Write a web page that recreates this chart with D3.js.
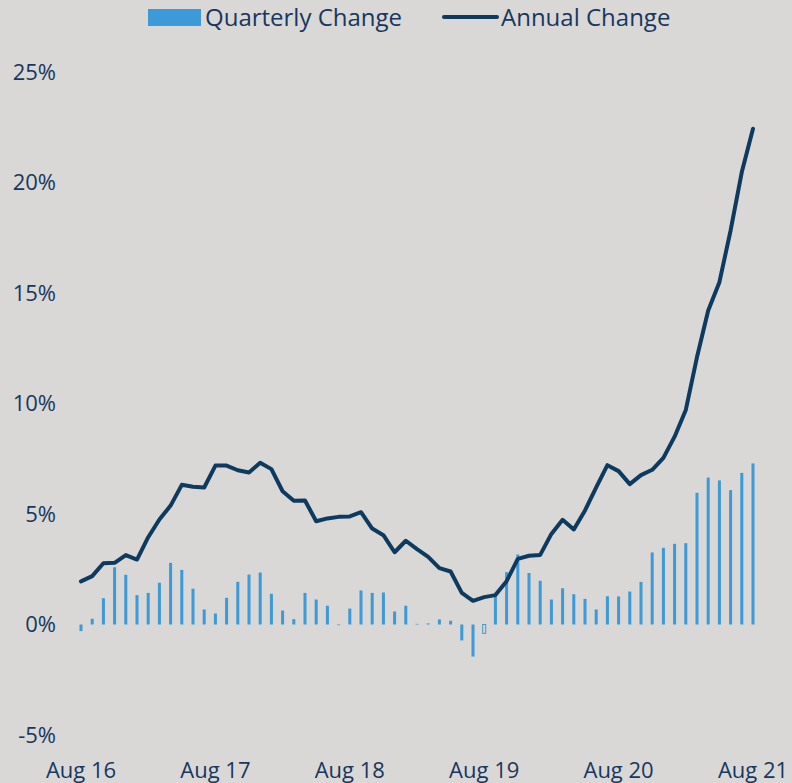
<!DOCTYPE html>
<html>
<head>
<meta charset="utf-8">
<script src="https://cdn.jsdelivr.net/npm/d3@7"></script>
<style>
  body { margin: 0; background: #d9d8d7; }
  svg { display: block; }
  text { font-family: "Open Sans", sans-serif; fill: #17375e; }
</style>
</head>
<body>
<div class="chart"></div>
<script>
// monthly labels Aug 16 .. Aug 21 (61 months)
var xTickLabels = ['Aug 16', 'Aug 17', 'Aug 18', 'Aug 19', 'Aug 20', 'Aug 21'];
var yTicks = [-5, 0, 5, 10, 15, 20, 25];

// quarterly change (%), one per month
var quarterly = [
  -0.30, 0.26, 1.19, 2.59, 2.25, 1.33, 1.43, 1.89, 2.79, 2.47,
  1.62, 0.68, 0.50, 1.21, 1.93, 2.26, 2.35, 1.39, 0.63, 0.24,
  1.43, 1.13, 0.85, -0.03, 0.72, 1.54, 1.43, 1.45, 0.59, 0.85,
  0.03, 0.05, 0.23, 0.17, -0.72, -1.45, -0.40, 1.31, 2.37, 3.17,
  2.33, 1.98, 1.13, 1.64, 1.37, 1.16, 0.68, 1.28, 1.27, 1.49,
  1.93, 3.26, 3.47, 3.65, 3.68, 5.96, 6.65, 6.52, 6.08, 6.86,
  7.29
];

// annual change (%), one per month
var annual = [
  1.95, 2.19, 2.77, 2.79, 3.14, 2.94, 3.95, 4.75, 5.38, 6.32,
  6.23, 6.20, 7.19, 7.19, 6.98, 6.88, 7.32, 7.03, 6.03, 5.60,
  5.61, 4.67, 4.80, 4.87, 4.89, 5.08, 4.34, 4.04, 3.27, 3.79,
  3.41, 3.06, 2.55, 2.40, 1.43, 1.07, 1.24, 1.33, 1.96, 2.97,
  3.11, 3.15, 4.10, 4.74, 4.30, 5.16, 6.21, 7.21, 6.94, 6.35,
  6.76, 7.00, 7.54, 8.50, 9.71, 12.10, 14.21, 15.49, 17.83, 20.47,
  22.43
];

// month index that Excel drew as an outlined bar
var outlinedIndex = 36;

var svgWidth = 792;
var svgHeight = 783;
var barColor = '#3b9ad8';
var lineColor = '#0d3a5e';

var svg = d3.select('.chart')
  .append('svg')
  .attr('width', svgWidth)
  .attr('height', svgHeight);

var x = d3.scaleLinear().domain([0, quarterly.length - 1]).range([81, 753]);
var y = d3.scaleLinear().domain([-5, 25]).range([735, 72]);

// y tick labels
svg.append('g')
  .selectAll('text')
  .data(yTicks)
  .enter()
  .append('text')
  .attr('x', 56)
  .attr('y', function(d) { return y(d); })
  .attr('dy', '0.35em')
  .attr('text-anchor', 'end')
  .attr('font-size', '22px')
  .text(function(d) { return d + '%'; });

// x tick labels, one per year
svg.append('g')
  .selectAll('text')
  .data(xTickLabels)
  .enter()
  .append('text')
  .attr('x', function(d, i) { return x(i * 12); })
  .attr('y', 778)
  .attr('text-anchor', 'middle')
  .attr('font-size', '22px')
  .text(function(d) { return d; });

// bars
var barW = 3;
svg.append('g')
  .selectAll('rect')
  .data(quarterly)
  .enter()
  .append('rect')
  .attr('x', function(d, i) { return x(i) - barW / 2; })
  .attr('y', function(d) { return Math.min(y(d), y(0)); })
  .attr('width', barW)
  .attr('height', function(d) { return Math.abs(y(d) - y(0)); })
  .attr('fill', function(d, i) { return i === outlinedIndex ? '#d9d8d7' : barColor; })
  .attr('stroke', function(d, i) { return i === outlinedIndex ? barColor : 'none'; })
  .attr('stroke-width', 1);

// annual line
var line = d3.line()
  .x(function(d, i) { return x(i); })
  .y(function(d) { return y(d); });

svg.append('path')
  .datum(annual)
  .attr('d', line)
  .attr('fill', 'none')
  .attr('stroke', lineColor)
  .attr('stroke-width', 4)
  .attr('stroke-linejoin', 'round')
  .attr('stroke-linecap', 'round');

// legend
var legend = svg.append('g');
legend.append('rect')
  .attr('x', 148).attr('y', 9)
  .attr('width', 53).attr('height', 17)
  .attr('fill', barColor);
legend.append('text')
  .attr('x', 205).attr('y', 26)
  .attr('font-size', '24px')
  .text('Quarterly Change');
legend.append('line')
  .attr('x1', 444).attr('x2', 497)
  .attr('y1', 17).attr('y2', 17)
  .attr('stroke', lineColor)
  .attr('stroke-width', 4)
  .attr('stroke-linecap', 'round');
legend.append('text')
  .attr('x', 501).attr('y', 26)
  .attr('font-size', '24px')
  .text('Annual Change');
</script>
</body>
</html>
